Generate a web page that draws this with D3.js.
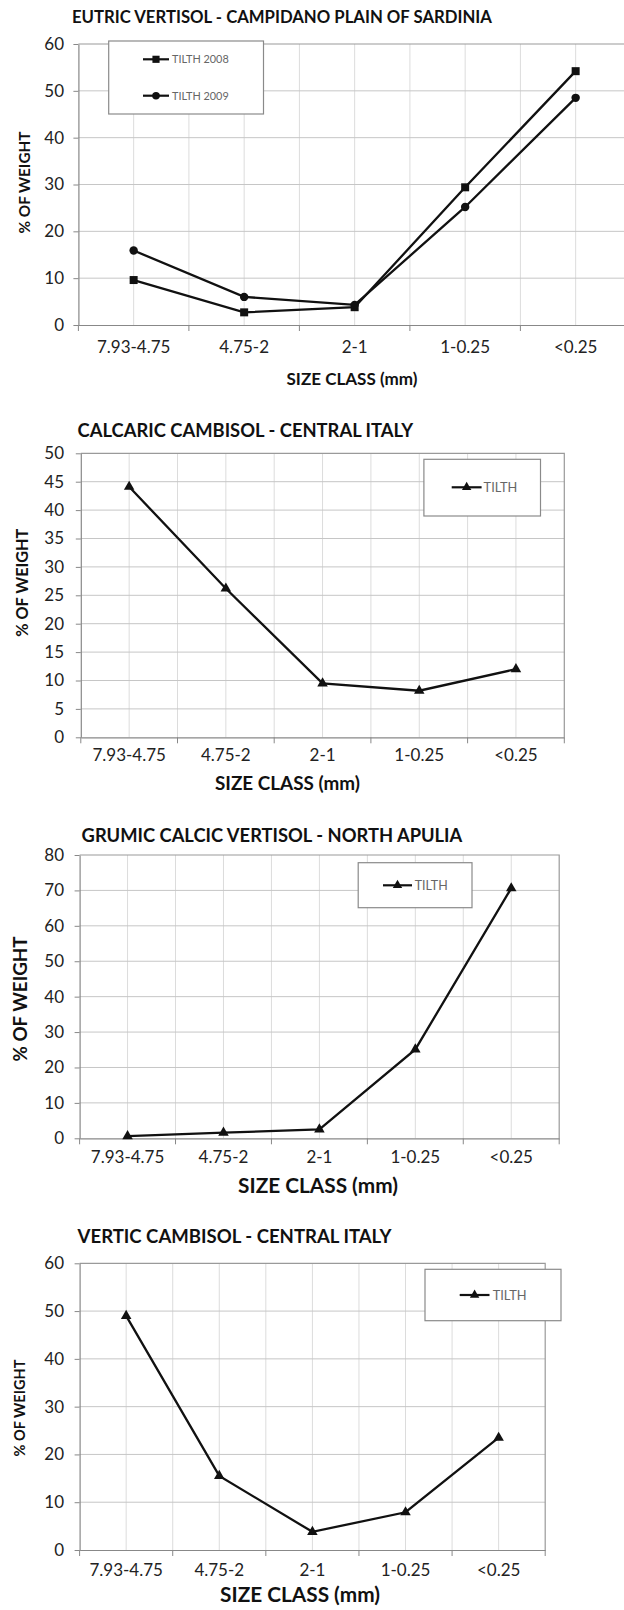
<!DOCTYPE html>
<html>
<head>
<meta charset="utf-8">
<script src="https://cdn.jsdelivr.net/npm/d3@7"></script>
<style>
body { margin: 0; background: #fff; }
svg { display: block; font-family: Lato, "Open Sans", sans-serif; }
</style>
</head>
<body>
<div id="vis-container"></div>
<script>
// categories shared by all four charts
const sizeClasses = ["7.93-4.75", "4.75-2", "2-1", "1-0.25", "<0.25"];

// values (% of weight)
const tilth2008Sardinia = [9.6, 2.7, 3.8, 29.4, 54.2];
const tilth2009Sardinia = [15.9, 6.0, 4.3, 25.2, 48.5];
const tilthCalcaric = [44.1, 26.2, 9.5, 8.2, 12.0];
const tilthGrumic = [0.6, 1.6, 2.5, 25.1, 70.6];
const tilthVertic = [49.0, 15.5, 3.8, 7.9, 23.5];

const titles = [
  "EUTRIC VERTISOL - CAMPIDANO PLAIN OF SARDINIA",
  "CALCARIC CAMBISOL - CENTRAL ITALY",
  "GRUMIC CALCIC VERTISOL - NORTH APULIA",
  "VERTIC CAMBISOL - CENTRAL ITALY"
];
const yMaxes = [60, 50, 80, 60];
const ySteps = [10, 5, 10, 10];
const xTitle = "SIZE CLASS (mm)";
const yTitle = "% OF WEIGHT";

let width = 624;
let height = 1610;
let svg = d3.select("#vis-container").append("svg").attr("width", width).attr("height", height);

const layout = [
  { left: 78.4, right: 630.9, top: 44, bottom: 325,
    title: [72, 23.3, 420], xLab: 352.7, xTitle: [352, 385, 131], yTitle: [24, 182.5, 102],
    legend: { x0: 108.7, y0: 41, x1: 263.5, y1: 114, rows: [59.3, 95.7], line: [143, 169], text: 172, tw: 56.7 } },
  { left: 80.8, right: 564.3, top: 453.3, bottom: 737.3,
    title: [77.6, 436.7, 336], xLab: 761, xTitle: [287.5, 790, 145], yTitle: [22, 582.7, 108],
    legend: { x0: 423.9, y0: 459.3, x1: 540.5, y1: 516, rows: [487.3], line: [451.7, 481.6], text: 483.6, tw: 33.8 } },
  { left: 79.6, right: 559.2, top: 855, bottom: 1138.3,
    title: [81.6, 841.7, 381], xLab: 1163, xTitle: [318, 1193.3, 160], yTitle: [20, 999, 125],
    legend: { x0: 358.2, y0: 862.7, x1: 472, y1: 907.7, rows: [885.3], line: [383, 412], text: 414.7, tw: 33 } },
  { left: 79.6, right: 545.2, top: 1263.3, bottom: 1550,
    title: [77.6, 1243.3, 314], xLab: 1576, xTitle: [300, 1602, 160], yTitle: [20, 1408, 97],
    legend: { x0: 425, y0: 1269.3, x1: 561, y1: 1320.7, rows: [1295], line: [459.7, 489.5], text: 492.7, tw: 34 } }
];

const seriesPerChart = [
  [{ name: "TILTH 2008", values: tilth2008Sardinia, marker: d3.symbolSquare, size: 64 },
   { name: "TILTH 2009", values: tilth2009Sardinia, marker: d3.symbolCircle, size: 56 }],
  [{ name: "TILTH", values: tilthCalcaric, marker: d3.symbolTriangle, size: 48 }],
  [{ name: "TILTH", values: tilthGrumic, marker: d3.symbolTriangle, size: 48 }],
  [{ name: "TILTH", values: tilthVertic, marker: d3.symbolTriangle, size: 48 }]
];

// shrink/grow font so the text has the width measured on the reference
function fit(sel, target) {
  let w = sel.node().getComputedTextLength();
  let fs = parseFloat(sel.attr("font-size"));
  sel.attr("font-size", fs * target / w);
}

layout.forEach((L, i) => {
  let g = svg.append("g");
  let yMax = yMaxes[i];

  let x = d3.scaleBand().domain(sizeClasses).range([L.left, L.right]).padding(0);
  let y = d3.scaleLinear().domain([0, yMax]).range([L.bottom, L.top]);
  let bw = x.bandwidth();
  let cx = d => x(d) + bw / 2;

  // gridlines
  let grid = g.append("g");
  grid.selectAll("line.v").data(d3.range(1, 10)).enter().append("line")
    .attr("x1", k => L.left + k * bw / 2).attr("x2", k => L.left + k * bw / 2)
    .attr("y1", L.top).attr("y2", L.bottom)
    .attr("stroke", "#dcdcdc").attr("stroke-width", 1);
  grid.selectAll("line.h").data(d3.range(ySteps[i], yMax, ySteps[i])).enter().append("line")
    .attr("x1", L.left).attr("x2", L.right)
    .attr("y1", d => y(d)).attr("y2", d => y(d))
    .attr("stroke", "#c6c6c6").attr("stroke-width", 1);
  // plot border top and right
  grid.append("path")
    .attr("d", `M${L.left},${L.top}H${L.right}V${L.bottom}`)
    .attr("fill", "none").attr("stroke", "#9a9a9a").attr("stroke-width", 1.2);

  // y axis
  let yAxis = g.append("g").attr("transform", `translate(${L.left},0)`)
    .call(d3.axisLeft(y).tickValues(d3.range(0, yMax + 1, ySteps[i])).tickSize(5).tickSizeOuter(0)
      .tickPadding(L.left - 64 - 5));
  yAxis.selectAll("text").attr("font-size", 17).attr("fill", "#222").style("font-family", "Lato, sans-serif");

  // x axis: labels at category centres, ticks at boundaries
  let xAxis = g.append("g").attr("transform", `translate(0,${L.bottom})`)
    .call(d3.axisBottom(x).tickSize(0).tickSizeOuter(0));
  xAxis.selectAll("text").attr("y", L.xLab - L.bottom).attr("dy", 0)
    .attr("font-size", 17).attr("fill", "#222").style("font-family", "Lato, sans-serif");
  xAxis.selectAll("line.bound").data(d3.range(0, 6)).enter().append("line")
    .attr("class", "bound")
    .attr("x1", k => L.left + k * bw).attr("x2", k => L.left + k * bw)
    .attr("y1", 0).attr("y2", 6).attr("stroke", "#888");
  g.selectAll(".domain").attr("stroke", "#888").attr("stroke-width", 1.2);
  g.selectAll(".tick line").attr("stroke", "#888");

  // series
  seriesPerChart[i].forEach(s => {
    let line = d3.line().x((d, j) => cx(sizeClasses[j])).y(d => y(d));
    g.append("path").attr("d", line(s.values))
      .attr("fill", "none").attr("stroke", "#111").attr("stroke-width", 2.3);
    g.selectAll(null).data(s.values).enter().append("path")
      .attr("transform", (d, j) => `translate(${cx(sizeClasses[j])},${y(d)})`)
      .attr("d", d3.symbol().type(s.marker).size(s.size))
      .attr("fill", "#111");
  });

  // legend
  let lg = L.legend;
  g.append("rect").attr("x", lg.x0).attr("y", lg.y0)
    .attr("width", lg.x1 - lg.x0).attr("height", lg.y1 - lg.y0)
    .attr("fill", "#fff").attr("stroke", "#8a8a8a").attr("stroke-width", 1.2);
  seriesPerChart[i].forEach((s, r) => {
    let ry = lg.rows[r];
    g.append("line").attr("x1", lg.line[0]).attr("x2", lg.line[1]).attr("y1", ry).attr("y2", ry)
      .attr("stroke", "#111").attr("stroke-width", 2.2);
    g.append("path").attr("transform", `translate(${(lg.line[0] + lg.line[1]) / 2},${ry})`)
      .attr("d", d3.symbol().type(s.marker).size(s.size * 0.8)).attr("fill", "#111");
    let t = g.append("text").attr("x", lg.text).attr("y", ry).attr("dy", "0.36em")
      .attr("font-size", 11).attr("fill", "#666").text(s.name);
    fit(t, lg.tw);
  });

  // titles
  let tt = g.append("text").attr("x", L.title[0]).attr("y", L.title[1])
    .attr("font-size", 16).attr("font-weight", "bold").attr("fill", "#111").text(titles[i]);
  fit(tt, L.title[2]);

  let xt = g.append("text").attr("x", L.xTitle[0]).attr("y", L.xTitle[1])
    .attr("text-anchor", "middle").attr("font-size", 16).attr("font-weight", "bold")
    .attr("fill", "#111").text(xTitle);
  fit(xt, L.xTitle[2]);

  let yt = g.append("text")
    .attr("transform", `translate(${L.yTitle[0]},${L.yTitle[1]}) rotate(-90)`)
    .attr("text-anchor", "middle").attr("dy", "0.36em")
    .attr("font-size", 16).attr("font-weight", "bold").attr("fill", "#111").text(yTitle);
  fit(yt, L.yTitle[2]);
});
</script>
</body>
</html>
